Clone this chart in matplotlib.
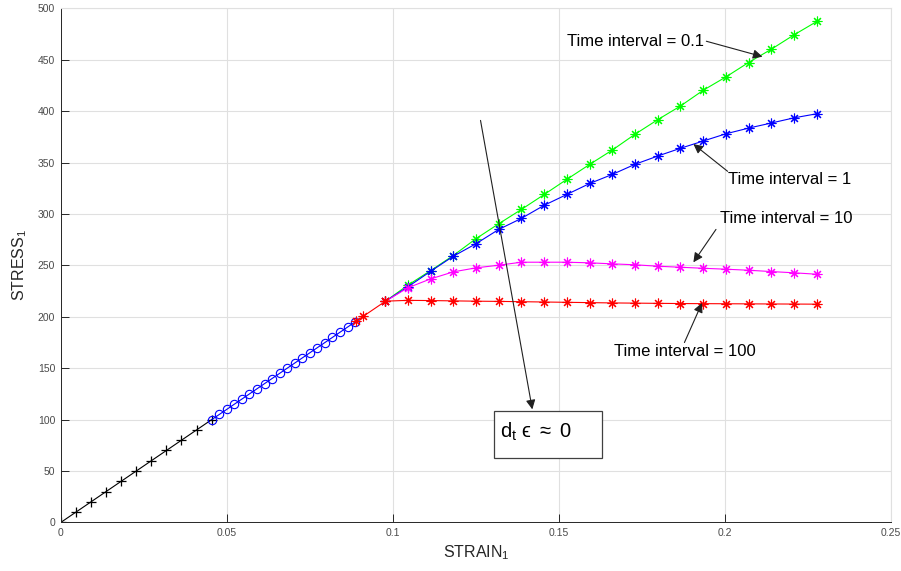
import matplotlib
matplotlib.use("Agg")
import matplotlib.pyplot as plt
from matplotlib.patches import Rectangle

plt.rcParams['font.family'] = ['Liberation Sans', 'DejaVu Sans']
plt.rcParams['mathtext.fontset'] = 'custom'
plt.rcParams['mathtext.rm'] = 'Liberation Sans'
plt.rcParams['mathtext.it'] = 'Liberation Sans'
plt.rcParams['mathtext.fallback'] = 'stixsans'

# elastic part (black +)
strain_black = [0, 0.00455, 0.0091, 0.01364, 0.01818, 0.02273, 0.02727, 0.03182, 0.03636, 0.04091, 0.04545]
stress_black = [0, 10, 20, 30, 40, 50, 60, 70, 80, 90, 100]

# elastic part (blue circles)
strain_circ = [0.04545, 0.04773, 0.05, 0.05227, 0.05455, 0.05682, 0.05909, 0.06136, 0.06364, 0.06591,
               0.06818, 0.07045, 0.07273, 0.075, 0.07727, 0.07955, 0.08182, 0.08409, 0.08636, 0.08864]
stress_circ = [100, 105, 110, 115, 120, 125, 130, 135, 140, 145,
               150, 155, 160, 165, 170, 175, 180, 185, 190, 195]

# red lead-in up to yield
strain_lead = [0.0888, 0.0911, 0.0977]
stress_lead = [195.5, 200.5, 215]

# branches after yield
strain_br = [0.0977, 0.1045, 0.1114, 0.1182, 0.1250, 0.1319, 0.1387, 0.1456, 0.1524, 0.1593,
             0.1661, 0.1729, 0.1798, 0.1866, 0.1935, 0.2003, 0.2071, 0.2140, 0.2208, 0.2277]
stress_01 = [215, 230.7, 245, 259.6, 275.9, 290.5, 304.4, 319, 333.7, 348.3,
             362.2, 377.5, 391.8, 405, 420.4, 433.3, 447.3, 460.3, 474.2, 487.3]
stress_1 = [215, 229.1, 244.3, 258.9, 271, 285, 295.7, 308.5, 319, 329.7,
            338.5, 348.3, 356.4, 363.9, 371, 378, 383.5, 388.5, 393.5, 397.5]
stress_10 = [215, 228.2, 236.9, 243.7, 247.6, 250.2, 253.1, 253.1, 253.1, 252.5,
             251.5, 250.6, 249.2, 248.2, 247.2, 246.3, 245.3, 244, 242.8, 241.4]
stress_100 = [215.2, 216, 215.8, 215.5, 215.2, 215, 214.7, 214.4, 214.1, 213.8,
              213.5, 213.3, 213.1, 212.9, 212.8, 212.7, 212.6, 212.5, 212.4, 212.3]

xticks = [0, 0.05, 0.1, 0.15, 0.2, 0.25]
xticklabels = ['0', '0.05', '0.1', '0.15', '0.2', '0.25']
yticks = [0, 50, 100, 150, 200, 250, 300, 350, 400, 450, 500]

fig = plt.figure(figsize=(9.01, 5.71), dpi=100)
ax = fig.add_axes([0.0674, 0.085, 0.9215, 0.9004])

lw = 0.8
star = (8, 2, 0)  # asterisk like matlab '*'
ax.plot(strain_black, stress_black, color='black', lw=lw, marker='+', ms=7, mew=0.9)
ax.plot(strain_circ, stress_circ, color='blue', lw=lw, marker='o', ms=6, mfc='none', mew=0.8)
ax.plot(strain_br, stress_01, color=(0, 1, 0), lw=lw, marker=star, ms=7, mew=0.8)
ax.plot(strain_br, stress_1, color='blue', lw=lw, marker=star, ms=7, mew=0.8)
ax.plot(strain_br, stress_10, color='magenta', lw=lw, marker=star, ms=7, mew=0.8)
ax.plot(strain_br, stress_100, color='red', lw=lw, marker=star, ms=7, mew=0.8)
ax.plot(strain_lead, stress_lead, color='red', lw=lw, marker=star, ms=7, mew=0.8)

ax.set_xlim(0, 0.25)
ax.set_ylim(0, 500)
ax.set_xticks(xticks)
ax.set_xticklabels(xticklabels)
ax.set_yticks(yticks)
ax.grid(True, color='#e0e0e0', lw=0.8)
ax.set_axisbelow(True)
ax.tick_params(direction='in', length=5.5, width=0.7, colors='#262626', labelsize=7.5,
               labelcolor='#4a4a4a', pad=4)
for s in ['left', 'bottom']:
    ax.spines[s].set_color('#262626')
    ax.spines[s].set_linewidth(0.7)
for s in ['top', 'right']:
    ax.spines[s].set_color('#e0e0e0')
    ax.spines[s].set_linewidth(0.8)

ax.set_xlabel(r'STRAIN$_\mathregular{1}$', fontsize=11.5, color='#262626', labelpad=4)
ax.set_ylabel(r'STRESS$_\mathregular{1}$', fontsize=11.5, color='#262626', labelpad=6)

arrow = dict(arrowstyle='-|>', color='#202020', lw=0.8, mutation_scale=14, shrinkA=0, shrinkB=0)
ax.text(0.1938, 468, 'Time interval = 0.1', fontsize=12, ha='right', va='center')
ax.annotate('', xy=(0.2113, 453), xytext=(0.1944, 468), arrowprops=arrow)
ax.text(0.2010, 333.5, 'Time interval = 1', fontsize=12, ha='left', va='center')
ax.annotate('', xy=(0.1905, 368), xytext=(0.2008, 341.5), arrowprops=arrow)
ax.text(0.1986, 296, 'Time interval = 10', fontsize=12, ha='left', va='center')
ax.annotate('', xy=(0.1905, 253), xytext=(0.1973, 285), arrowprops=arrow)
ax.text(0.1667, 166, 'Time interval = 100', fontsize=12, ha='left', va='center')
ax.annotate('', xy=(0.1931, 213.5), xytext=(0.1878, 175), arrowprops=arrow)

# dt eps ~ 0 box and arrow
ax.annotate('', xy=(0.1420, 110), xytext=(0.1264, 391), arrowprops=arrow)
ax.add_patch(Rectangle((0.1306, 62.5), 0.0324, 46.1, fill=True, fc='white',
                       ec='#404040', lw=0.9, zorder=5))
ax.text(0.1322, 88, 'd$_\\mathregular{t}$ $\u03f5$ $\\approx$ 0', fontsize=14.5,
        ha='left', va='center', zorder=6)

fig.savefig('out.png', dpi=100)
